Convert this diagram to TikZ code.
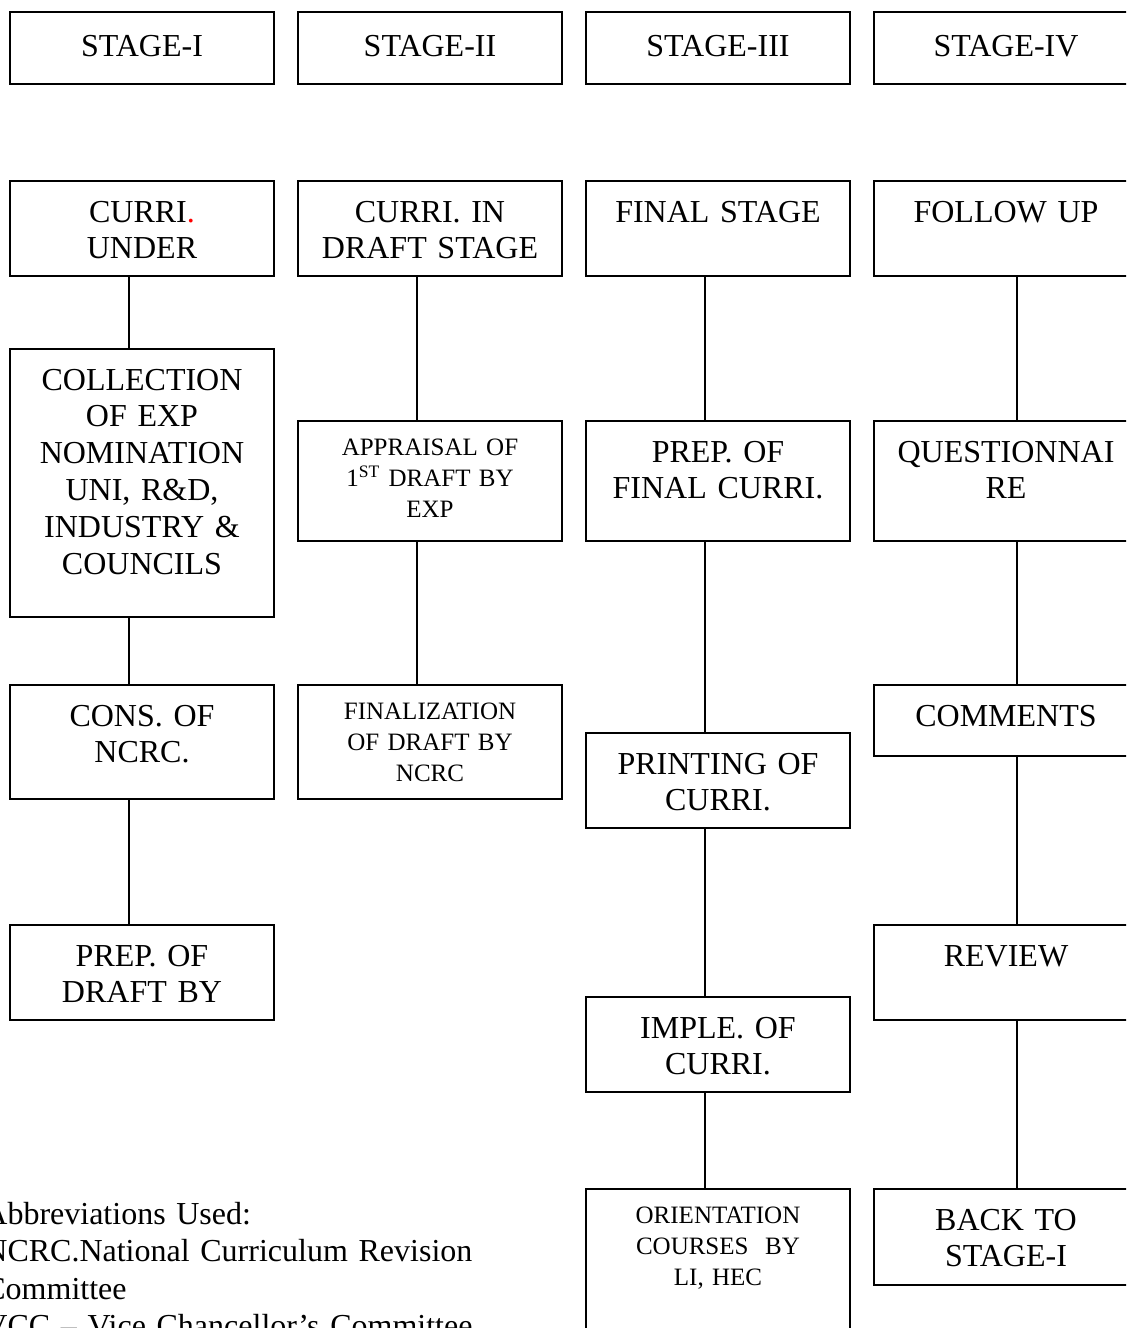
\documentclass[tikz,border=0pt]{standalone}
\usepackage{fontspec}
\setmainfont{Liberation Serif}
\newcommand\bigf{\fontsize{16}{18.4}\selectfont}
\newcommand\smlf{\fontsize{12.5}{15.6}\selectfont}
\tikzset{
  bx/.style={draw, line width=1pt, inner sep=0pt, text width=132pt, align=center,
    anchor=north west, font=\bigf, text height=20.5pt},
  sbx/.style={bx, font=\smlf, text height=17pt},
  link/.style={line width=0.8pt},
}
\begin{document}
\begin{tikzpicture}[x={(0.5pt,0)}, y={(0,-0.5pt)}]
\useasboundingbox (0,0) rectangle (1126,1328);
\clip (0,0) rectangle (1126,1328);
% stage headers
\node[bx, text height=22pt, text depth=14pt] (s1) at (9,11) {STAGE-I};
\node[bx, text height=22pt, text depth=14pt] (s2) at (297,11) {STAGE-II};
\node[bx, text height=22pt, text depth=14pt] (s3) at (585,11) {STAGE-III};
\node[bx, text height=22pt, text depth=14pt] (s4) at (873,11) {STAGE-IV};
% row 2
\node[bx, text depth=27pt] (a1) at (9,180) {CURRI{\color{red}.}\\UNDER};
\node[bx, text depth=27pt] (a2) at (297,180) {CURRI. IN\\DRAFT STAGE};
\node[bx, text depth=27pt] (a3) at (585,180) {FINAL STAGE};
\node[bx, text depth=27pt] (a4) at (873,180) {FOLLOW UP};
% column 1
\node[bx, text depth=113.5pt] (b1) at (9,348) {COLLECTION\\OF EXP\\NOMINATION\\UNI, R\&D,\\INDUSTRY \&\\COUNCILS};
\node[bx, text depth=36.5pt] (c1) at (9,684) {CONS. OF\\NCRC.};
\node[bx, text depth=27pt] (d1) at (9,924) {PREP. OF\\DRAFT BY};
% column 2
\node[sbx, text depth=43pt] (b2) at (297,420) {APPRAISAL OF\\1\textsuperscript{ST} DRAFT BY\\EXP};
\node[sbx, text depth=40pt] (c2) at (297,684) {FINALIZATION\\OF DRAFT BY\\NCRC};
% column 3
\node[bx, text depth=39.5pt] (b3) at (585,420) {PREP. OF\\FINAL CURRI.};
\node[bx, text depth=27pt] (c3) at (585,732) {PRINTING OF\\CURRI.};
\node[bx, text depth=27pt] (d3) at (585,996) {IMPLE. OF\\CURRI.};
\node[sbx, text depth=100pt] (e3) at (585,1188) {ORIENTATION\\COURSES~ BY\\LI, HEC};
% column 4
\node[bx, text depth=39.5pt] (b4) at (873,420) {QUESTIONNAI\\RE};
\node[bx, text depth=15pt] (c4) at (873,684) {COMMENTS};
\node[bx, text depth=27pt] (d4) at (873,924) {REVIEW};
\node[bx, text depth=27.5pt] (e4) at (873,1188) {BACK TO\\STAGE-I};
% connectors
\draw[link] ([xshift=60pt]a1.south west) -- ([xshift=60pt]b1.north west);
\draw[link] ([xshift=60pt]b1.south west) -- ([xshift=60pt]c1.north west);
\draw[link] ([xshift=60pt]c1.south west) -- ([xshift=60pt]d1.north west);
\draw[link] ([xshift=60pt]a2.south west) -- ([xshift=60pt]b2.north west);
\draw[link] ([xshift=60pt]b2.south west) -- ([xshift=60pt]c2.north west);
\draw[link] ([xshift=60pt]a3.south west) -- ([xshift=60pt]b3.north west);
\draw[link] ([xshift=60pt]b3.south west) -- ([xshift=60pt]c3.north west);
\draw[link] ([xshift=60pt]c3.south west) -- ([xshift=60pt]d3.north west);
\draw[link] ([xshift=60pt]d3.south west) -- ([xshift=60pt]e3.north west);
\draw[link] ([xshift=72pt]a4.south west) -- ([xshift=72pt]b4.north west);
\draw[link] ([xshift=72pt]b4.south west) -- ([xshift=72pt]c4.north west);
\draw[link] ([xshift=72pt]c4.south west) -- ([xshift=72pt]d4.north west);
\draw[link] ([xshift=72pt]d4.south west) -- ([xshift=72pt]e4.north west);
% abbreviations
\node[anchor=base west, inner sep=0pt, text width=270pt, align=left,
  font=\fontsize{16}{18.75}\selectfont] (abbr) at (-16,1224)
  {Abbreviations Used:\\NCRC.National Curriculum Revision\\Committee\\VCC – Vice Chancellor’s Committee};
\end{tikzpicture}
\end{document}
